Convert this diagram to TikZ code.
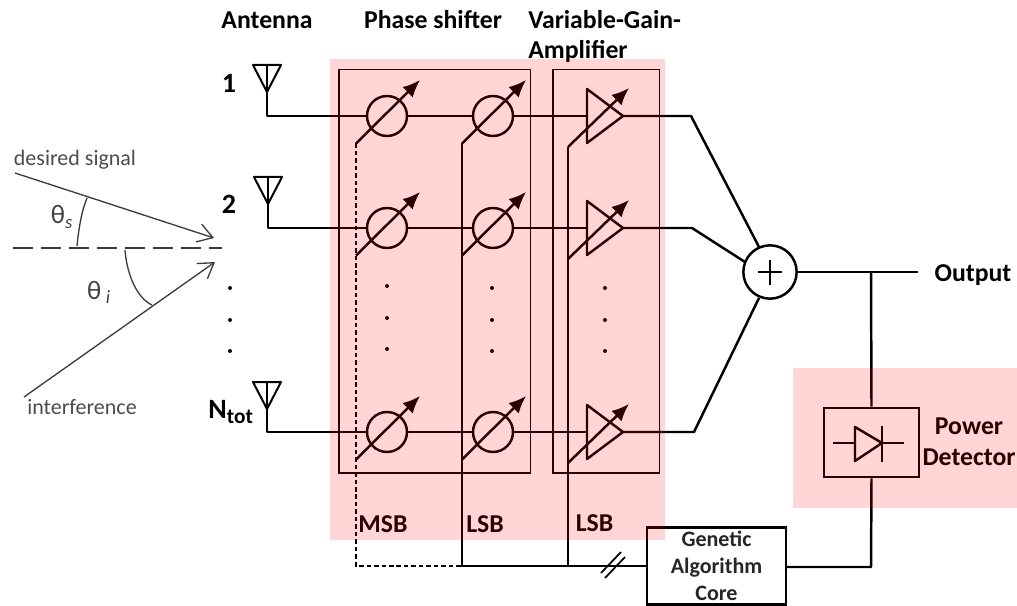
\documentclass[tikz,border=0pt]{standalone}
\usepackage{fontspec}
\setmainfont{Carlito}
\usetikzlibrary{arrows.meta,calc}
\definecolor{pinkzone}{RGB}{255,0,0}
\definecolor{thinline}{RGB}{60,60,60}
\tikzset{
  wire/.style={line width=1.85pt,black,line join=round},
  frame/.style={line width=0.95pt,black},
  ctrl/.style={line width=1.85pt,black},
  tune/.style={line width=1.85pt,black,-{Latex[length=13pt,width=11pt]}},
  shifter/.style={circle,draw,line width=1.85pt,minimum size=30pt,inner sep=0pt},
  sumnode/.style={circle,draw,line width=1.85pt,minimum size=40pt,inner sep=0pt},
  blockbox/.style={rectangle,draw,line width=1.85pt,inner sep=0pt},
  lab/.style={font=\bfseries\fontsize{19.3}{22}\selectfont,text=black,inner sep=0pt},
  num/.style={font=\bfseries\fontsize{21}{24}\selectfont,text=black,inner sep=0pt},
  small/.style={font=\fontsize{16.5}{20}\selectfont,text=black!70,inner sep=0pt},
  greek/.style={font=\fontsize{20}{24}\selectfont,text=black!75,inner sep=0pt},
  ray/.style={line width=1pt,thinline,-{Straight Barb[length=11pt,width=14pt]}},
  angle/.style={line width=1pt,thinline},
  dotmark/.style={circle,fill=black,minimum size=3pt,inner sep=0pt},
  zone/.style={fill=pinkzone,fill opacity=0.165,draw=none}
}
\begin{document}
\begin{tikzpicture}[x=0.75pt,y=-0.75pt]
\useasboundingbox (0,0) rectangle (1017,606);
% frames
\draw[frame] (339,69.5) rectangle (530.5,473);
\draw[frame] (553,69.5) rectangle (659.5,473);
% sum and blocks
\node[sumnode] (sum) at (770,272) {};
\coordinate (plusL) at (758,272);
\coordinate (plusR) at (782,272);
\coordinate (plusT) at (770,260);
\coordinate (plusB) at (770,285);
\draw[line width=1.5pt] (plusL) -- (plusR);
\draw[line width=1.5pt] (plusT) -- (plusB);
\node[blockbox,minimum width=71.5pt,minimum height=52pt] (pd) at (871.5,442.5) {};
\node[blockbox,minimum width=104pt,minimum height=58pt,align=center,font=\bfseries\fontsize{16.5}{20}\selectfont,text=black!85] (ga) at (716.5,566) {Genetic\\Algorithm\\Core};
\coordinate (outend) at (918,272);
\coordinate (branch) at (871,272);
\coordinate (gabus) at (871,567);
\coordinate (busA) at (568,566);
\coordinate (busB) at (462,566);
\coordinate (busC) at (356,566);
% rows
\foreach \r/\y/\ax/\atop/\ky/\kx/\sx/\sy in {a/116/267/65/116/691/759/247,b/228/268/177/228/692/745/262,c/432/267/382/432/694/759/298}{
  \coordinate (ant\r) at (\ax,\atop);
  \coordinate (foot\r) at (\ax,\y);
  \coordinate (kink\r) at (\kx,\ky);
  \coordinate (join\r) at (\sx,\sy);
  \node[shifter] (msb\r) at (387,\y) {};
  \node[shifter] (lsb\r) at (493,\y) {};
  \coordinate (ampin\r) at (587,\y);
  \coordinate (amptip\r) at (623,\y);
  \draw[wire] (ant\r) -- (foot\r) -- (msb\r.west);
  \draw[wire] (msb\r.east) -- (lsb\r.west);
  \draw[wire] (lsb\r.east) -- (ampin\r);
  \draw[wire] (amptip\r) -- (kink\r) -- (join\r);
  % antenna
  \draw[wire,line width=1.5pt] ($(ant\r)+(-14,0)$) -- ($(ant\r)+(14,0)$) -- ($(ant\r)+(0,27)$) -- cycle;
  % amplifier
  \draw[wire] ($(ampin\r)+(0,-27)$) -- (amptip\r) -- ($(ampin\r)+(0,27)$) -- cycle;
  % tuning arrows
  \draw[tune] ($(msb\r)+(-31,27.5)$) -- ($(msb\r)+(33,-36)$);
  \draw[tune] ($(lsb\r)+(-31,27.5)$) -- ($(lsb\r)+(33,-36)$);
  \draw[tune] ($(ampin\r)+(-19,31)$) -- ($(ampin\r)+(42,-28)$);
}
% control lines
\draw[ctrl,dash pattern=on 3.4pt off 2.2pt] ($(msba)+(-31,27.5)$) -- (busC) -- (busB);
\draw[ctrl] ($(lsba)+(-31,27.5)$) -- (busB) -- (ga.west);
\draw[ctrl] ($(ampina)+(-19,31)$) -- (busA);
\draw[line width=1.3pt] (601,573) -- (621,552);
\draw[line width=1.3pt] (605,578) -- (625,557);
% output and detector
\draw[wire] (sum.east) -- (outend);
\draw[wire] (branch) -- (pd.north);
\draw[wire] (pd.south) -- (gabus) -- (ga.east |- gabus);
% diode
\coordinate (dioL) at (855,443);
\coordinate (dioR) at (882,443);
\draw[wire] (833,443) -- (dioL);
\draw[wire] (dioR) -- (904,443);
\draw[wire] (855,427) -- (dioR) -- (855,461) -- cycle;
\draw[wire] (882,426) -- (882,462);
% incident waves
\coordinate (ds) at (15,173);
\coordinate (dsend) at (214,238);
\coordinate (in) at (24,397);
\coordinate (inend) at (215,262);
\draw[ray] (ds) -- (dsend);
\draw[ray] (in) -- (inend);
\draw[line width=1.2pt,thinline,dash pattern=on 15pt off 6pt] (13,248) -- (222,248);
\draw[angle] (77,246) .. controls (79,226) and (82,210) .. (87,198);
\draw[angle] (125,250) .. controls (127,275) and (137,298) .. (152,305);
% dots
\foreach \x/\a in {230/0,387/-2,492/0,605/0}{
  \node[dotmark] (d1x\x) at (\x,{288+\a}) {};
  \node[dotmark] (d2x\x) at (\x,{320+\a}) {};
  \node[dotmark] (d3x\x) at (\x,{351+\a}) {};
}
% labels
\node[lab] (t1) at (267,20) {Antenna};
\node[lab] (t2) at (433,20) {Phase shifter};
\node[lab,anchor=west] (t3) at (528,20) {Variable-Gain-};
\node[lab,anchor=west] (t4) at (528,51) {Amplifier};
\node[num] (n1) at (229,83) {1};
\node[num] (n2) at (229,204) {2};
\node[num] (n3) at (231,412) {N\textsubscript{\fontsize{16}{16}\selectfont tot}};
\node[small] (s1) at (75,160) {desired signal};
\node[small] (s2) at (82,407) {interference};
\node[greek] (g1) at (62,217) {θ\textsubscript{\itshape s}};
\node[greek] (g2) at (99,292) {θ\,\textsubscript{\itshape i}};
\node[lab] (m1) at (383,524) {MSB};
\node[lab] (m2) at (485,524) {LSB};
\node[lab] (m3) at (594.5,523) {LSB};
\node[lab] (o1) at (973,275) {Output};
\node[lab,align=center,anchor=center] (p1) at (969,441.5) {Power\\[1pt]Detector};
% translucent zones
\fill[zone] (329.5,59) rectangle (665,540);
\fill[zone] (793,368) rectangle (1017,508);
\end{tikzpicture}
\end{document}
